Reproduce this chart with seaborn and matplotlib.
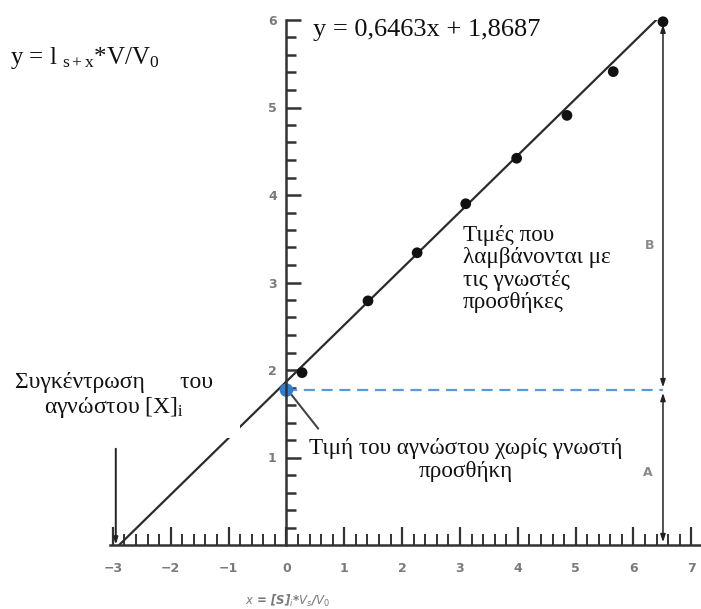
import numpy as np
import pandas as pd
import matplotlib
matplotlib.use("Agg")
import matplotlib.pyplot as plt
from matplotlib.patches import Rectangle
import seaborn as sns

# ---------------- data ----------------
x_added = [0.27, 1.41, 2.26, 3.10, 3.98, 4.85, 5.65, 6.51]      # x = [S]i*Vs/V0
y_signal = [1.97, 2.79, 3.34, 3.90, 4.42, 4.91, 5.41, 5.98]     # y = I(s+x)*V/V0
fit_slope = 0.6463
fit_intercept = 1.8687
unknown_x = [0.0]
unknown_y = [1.77]
extrap_marker_top = 1.10
extrap_marker_x = -2.95
x_tick_values = [-3, -2, -1, 0, 1, 2, 3, 4, 5, 6, 7]
x_tick_labels = ["\u22123", "\u22122", "\u22121", "0", "1", "2", "3", "4", "5", "6", "7"]
y_tick_values = [1, 2, 3, 4, 5, 6]
y_tick_labels = ["1", "2", "3", "4", "5", "6"]

# ---------------- style ----------------
sns.set_style("white")
plt.rcParams["font.family"] = ["Liberation Serif", "DejaVu Serif"]
plt.rcParams["mathtext.fontset"] = "custom"
plt.rcParams["mathtext.rm"] = "Liberation Serif"
plt.rcParams["mathtext.it"] = "Liberation Serif:italic"

W, H = 701, 609
fig = plt.figure(figsize=(W / 100, H / 100), dpi=100)
ax = fig.add_axes([110 / W, 64 / H, 590 / W, 525 / H])
ax.set_xlim(-3.05, 7.15)
ax.set_ylim(0, 6)

def fx(px):
    return px / W

def fy(py):
    return 1 - py / H

# regression line
x0 = -fit_intercept / fit_slope
line_df = pd.DataFrame({"x": [x0, x_added[-1]],
                        "y": [fit_slope * x0 + fit_intercept, fit_slope * x_added[-1] + fit_intercept]})
sns.lineplot(data=line_df, x="x", y="y", ax=ax, color="#2b2b2b", lw=1.6, zorder=2)

# measured points
pts = pd.DataFrame({"x": x_added, "y": y_signal})
sns.scatterplot(data=pts, x="x", y="y", ax=ax, color="#111111", s=60, edgecolor="none",
                zorder=4, clip_on=False)

# dashed horizontal line at unknown value
ax.plot([unknown_x[0], x_added[-1]], [unknown_y[0], unknown_y[0]], color="#5b9bd5",
        lw=1.6, ls=(0, (5, 3)), zorder=3)

# blue point (unknown)
sns.scatterplot(x=unknown_x, y=unknown_y, ax=ax, color="#2f7fcf", s=95, edgecolor="none",
                zorder=5, clip_on=False)

# vertical arrows A and B
arrow_style = dict(arrowstyle="<|-|>,head_length=0.45,head_width=0.15", lw=1.1,
                   color="#222222", shrinkA=2, shrinkB=2)
ax.annotate("", xy=(x_added[-1], 0), xytext=(x_added[-1], unknown_y[0]),
            arrowprops=arrow_style, annotation_clip=False)
ax.annotate("", xy=(x_added[-1], y_signal[-1]), xytext=(x_added[-1], unknown_y[0]),
            arrowprops=arrow_style, annotation_clip=False)

# vertical marker at the extrapolated x-intercept
ax.annotate("", xy=(extrap_marker_x, 0), xytext=(extrap_marker_x, extrap_marker_top),
            arrowprops=dict(arrowstyle="-|>,head_length=0.4,head_width=0.12", lw=1.4,
                            color="#222222", shrinkA=0, shrinkB=0), annotation_clip=False)

# pointer from label to blue point
ax.plot([0.0, 0.55], [unknown_y[0] + 0.02, 1.33], color="#444444", lw=1.5, zorder=4)

# white box hiding part of the line (text background in the reference)
ax.add_patch(Rectangle((0, fy(438)), fx(240), fy(330) - fy(438), transform=fig.transFigure,
                       facecolor="white", edgecolor="none", zorder=3.5, clip_on=False))

# axes / spines
for s in ["top", "right"]:
    ax.spines[s].set_visible(False)
ax.spines["left"].set_position(("data", 0))
ax.spines["bottom"].set_position(("data", 0))
for s in ["left", "bottom"]:
    ax.spines[s].set_linewidth(1.8)
    ax.spines[s].set_color("#333333")
    ax.spines[s].set_zorder(6)

ax.set_xticks(x_tick_values)
ax.set_xticklabels(x_tick_labels)
ax.set_xticks(np.arange(-3, 7.01, 0.2), minor=True)
ax.set_yticks(y_tick_values)
ax.set_yticklabels(y_tick_labels)
ax.set_yticks(np.arange(0.2, 6.0, 0.2), minor=True)

for lab in ax.get_xticklabels() + ax.get_yticklabels():
    lab.set_fontfamily("DejaVu Sans")
    lab.set_fontweight("bold")
    lab.set_fontsize(9)
ax.tick_params(which="both", bottom=True, left=True, top=False, right=False)
ax.tick_params(axis="x", which="major", direction="in", length=13, width=1.6, pad=12,
               color="#333333", labelcolor="#7a7a7a")
ax.tick_params(axis="x", which="minor", direction="in", length=8, width=1.4, color="#333333")
ax.tick_params(axis="y", which="major", direction="in", length=11, width=1.8, pad=7,
               color="#333333", labelcolor="#7a7a7a")
ax.tick_params(axis="y", which="minor", direction="in", length=7, width=1.8, color="#333333")
ax.set_xlabel("")
ax.set_ylabel("")

# ---------------- texts ----------------
fig.text(fx(313), fy(30), "y = 0,6463x + 1,8687", fontsize=19, va="center", ha="left",
         color="#111111")
fig.text(fx(10), fy(58), r"y = l $_{\mathrm{s+x}}$*V/V$_{\mathrm{0}}$", fontsize=18,
         va="center", ha="left", color="#111111")

fig.text(fx(463), fy(269), "Τιμές που\nλαμβάνονται με\nτις γνωστές\nπροσθήκες",
         fontsize=16.7, va="center", ha="left", linespacing=1.1, color="#111111", zorder=7)

fig.text(fx(114), fy(396), "Συγκέντρωση      του\nαγνώστου [X]$_{\\mathrm{i}}$", fontsize=17,
         va="center", ha="center", linespacing=1.15, color="#111111", zorder=7)

fig.text(fx(466), fy(460), "Τιμή του αγνώστου χωρίς γνωστή\nπροσθήκη", fontsize=16.7,
         va="center", ha="center", linespacing=1.15, color="#111111", zorder=7)

fig.text(fx(648), fy(473), "A", fontsize=9, family="DejaVu Sans", weight="bold",
         color="#8a8a8a", va="center", ha="center")
fig.text(fx(650), fy(245), "B", fontsize=9, family="DejaVu Sans", weight="bold",
         color="#8a8a8a", va="center", ha="center")

fig.text(fx(288), fy(601), r"$x$ = [S]$_i$*$V_s$/$V_0$", fontsize=8.5, family="DejaVu Sans",
         style="italic", weight="bold", color="#7a7a7a", va="center", ha="center",
         math_fontfamily="dejavusans")

fig.savefig("out.png", dpi=100)
